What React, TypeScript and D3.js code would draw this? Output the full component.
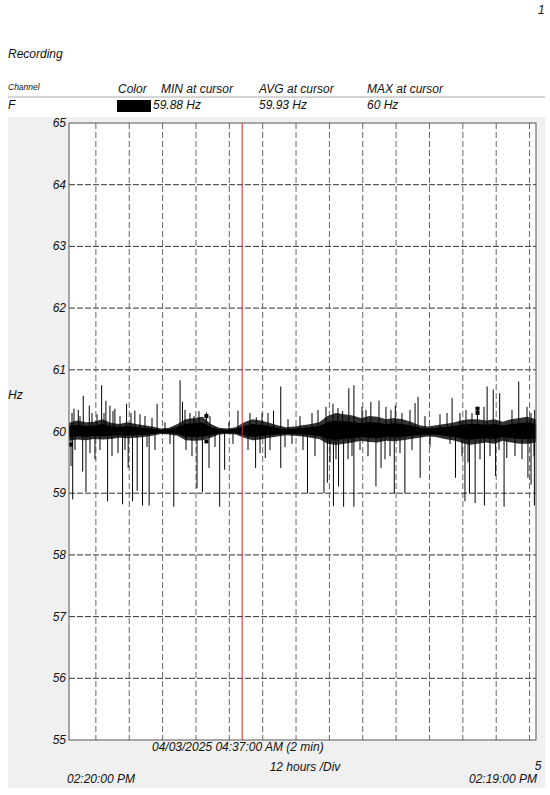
import React from "react";
import * as d3 from "d3";

// ---- data ----
const startTime = new Date(2025, 2, 31, 14, 20, 0);
const endTime = new Date(2025, 3, 7, 14, 19, 0);
const cursorTime = new Date(2025, 3, 3, 4, 37, 0);
const yTicks = [55, 56, 57, 58, 59, 60, 61, 62, 63, 64, 65];

// noise band (hours from start, low, high)
const bandHours = [0, 3, 6, 9, 12, 15, 18, 21, 24, 27, 30, 33, 36, 39, 42, 45, 48, 51, 54, 57, 60, 63, 66, 69, 72, 75, 78, 81, 84, 87, 90, 93, 96, 99, 102, 105, 108, 111, 114, 117, 120, 123, 126, 129, 132, 135, 138, 141, 144, 147, 150, 153, 156, 159, 162, 165, 168];
const bandLo = [59.85, 59.87, 59.86, 59.88, 59.87, 59.88, 59.9, 59.89, 59.9, 59.91, 59.93, 59.96, 59.95, 59.93, 59.86, 59.85, 59.86, 59.9, 59.95, 59.96, 59.95, 59.9, 59.86, 59.87, 59.9, 59.92, 59.94, 59.93, 59.92, 59.9, 59.88, 59.8, 59.78, 59.8, 59.82, 59.85, 59.83, 59.82, 59.85, 59.84, 59.86, 59.88, 59.9, 59.92, 59.91, 59.88, 59.86, 59.82, 59.78, 59.8, 59.82, 59.8, 59.85, 59.82, 59.8, 59.8, 59.82];
const bandHi = [60.14, 60.18, 60.15, 60.16, 60.2, 60.14, 60.12, 60.15, 60.12, 60.1, 60.08, 60.05, 60.06, 60.12, 60.2, 60.22, 60.24, 60.12, 60.06, 60.05, 60.07, 60.15, 60.2, 60.18, 60.14, 60.1, 60.07, 60.08, 60.1, 60.12, 60.15, 60.25, 60.3, 60.28, 60.26, 60.22, 60.25, 60.24, 60.2, 60.22, 60.2, 60.16, 60.1, 60.08, 60.1, 60.12, 60.14, 60.18, 60.2, 60.2, 60.18, 60.2, 60.16, 60.2, 60.22, 60.24, 60.2];

// large upward spikes (hours, Hz)
const upHours = [1.79, 3.34, 5.13, 7.29, 11.74, 13.28, 14.72, 16.51, 20.71, 23.69, 31.69, 39.95, 40.81, 49.43, 60.77, 67.37, 73.58, 76.17, 98.42, 100.65, 102.48, 108.58, 111.52, 117.37, 124.48, 125.56, 137.8, 146.95, 150.4, 152.59, 154.92, 161.77, 167.5];
const upValues = [60.37, 60.35, 60.58, 60.42, 60.75, 60.5, 60.42, 60.37, 60.45, 60.34, 60.45, 60.83, 60.48, 60.31, 60.34, 60.23, 60.34, 60.73, 60.33, 60.7, 60.75, 60.48, 60.5, 60.42, 60.46, 60.56, 60.54, 60.39, 60.73, 60.68, 60.62, 60.81, 60.35];

// large downward spikes (hours, Hz)
const downHours = [0.72, 1.33, 4.92, 6.1, 9.33, 13.89, 19.27, 21.28, 22.86, 24.52, 26.45, 28.82, 37.69, 46.05, 47.99, 50.36, 54.2, 55.99, 67.12, 70.6, 76.17, 85.79, 91.71, 92.93, 95.12, 96.95, 98.78, 102.48, 110.41, 112.24, 117.01, 120.82, 126.31, 139.02, 142.43, 144.04, 146.09, 149.43, 153.45, 156.5, 157.47, 165.08, 166.19, 167.4];
const downValues = [59.44, 58.9, 59.35, 59.02, 59.55, 58.87, 58.82, 59.41, 58.87, 59.04, 58.8, 58.8, 58.78, 59.08, 59.02, 59.41, 58.78, 59.38, 59.41, 59.57, 59.41, 59.0, 59.0, 59.17, 58.79, 59.11, 58.78, 58.78, 59.11, 59.41, 59.0, 59.0, 59.25, 59.25, 58.87, 59.0, 58.84, 58.8, 59.28, 58.78, 59.57, 59.25, 59.14, 58.8];

// smaller upward excursions (hours, Hz)
const midUpHours = [1.08, 3.96, 8.27, 10.07, 12.59, 15.83, 18.35, 22.3, 25.54, 27.34, 29.86, 34.53, 41.73, 43.53, 44.96, 46.76, 50.72, 57.55, 65.11, 69.43, 71.58, 78.78, 83.09, 87.41, 89.57, 92.44, 94.96, 96.76, 105.39, 106.83, 114.02, 115.82, 119.78, 122.66, 128.05, 133.45, 135.97, 140.64, 142.8, 144.96, 149.28, 159.35, 164.75, 166.18];
const midUpValues = [60.3, 60.25, 60.3, 60.28, 60.3, 60.33, 60.25, 60.3, 60.28, 60.25, 60.22, 60.15, 60.35, 60.3, 60.25, 60.33, 60.25, 60.15, 60.3, 60.3, 60.3, 60.2, 60.25, 60.3, 60.35, 60.4, 60.45, 60.38, 60.4, 60.35, 60.4, 60.35, 60.3, 60.35, 60.25, 60.28, 60.3, 60.3, 60.35, 60.3, 60.4, 60.35, 60.4, 60.3];

// smaller downward excursions (hours, Hz)
const midDownHours = [2.16, 7.55, 11.15, 15.47, 17.63, 20.14, 28.06, 30.94, 36.33, 42.09, 44.24, 52.52, 58.99, 64.39, 68.71, 72.3, 77.7, 80.22, 84.17, 88.49, 93.89, 96.04, 100.36, 101.8, 104.68, 107.55, 113.67, 115.47, 119.06, 123.38, 129.86, 137.05, 141.37, 143.53, 147.84, 151.44, 154.68, 160.43, 162.95, 167.27];
const midDownValues = [59.7, 59.65, 59.7, 59.6, 59.65, 59.7, 59.75, 59.7, 59.8, 59.7, 59.6, 59.75, 59.8, 59.7, 59.65, 59.7, 59.75, 59.8, 59.7, 59.6, 59.5, 59.55, 59.55, 59.6, 59.7, 59.6, 59.55, 59.6, 59.65, 59.7, 59.75, 59.8, 59.6, 59.5, 59.55, 59.6, 59.7, 59.6, 59.55, 59.6];

// small square markers
const markerHours = [0.72, 49.43, 49.43, 146.95, 146.95];
const markerValues = [59.79, 60.25, 59.84, 60.37, 60.3];

const headerCols = ["Color", "MIN at cursor", "AVG at cursor", "MAX at cursor"];
const headerVals = ["59.88 Hz", "59.93 Hz", "60 Hz"];

const FONT = "'Liberation Sans', Arial, sans-serif";

export default function App() {
  const left = 69, right = 536, top = 123, bottom = 740;
  const x = d3.scaleTime().domain([startTime, endTime]).range([left, right]);
  const y = d3.scaleLinear().domain([55, 65]).range([bottom, top]);
  const hToDate = (h: number) => new Date(startTime.getTime() + h * 3600000);

  const gridTimes = d3.timeHour.every(12)!.range(startTime, endTime).filter((t) => t > startTime);

  const band = bandHours.map((h, i) => ({ t: hToDate(h), lo: bandLo[i], hi: bandHi[i] }));
  const area = d3
    .area<any>()
    .x((d) => x(d.t))
    .y0((d) => y(d.lo))
    .y1((d) => y(d.hi))
    .curve(d3.curveLinear);
  const core = d3
    .area<any>()
    .x((d) => x(d.t))
    .y0((d) => y(60 - (60 - d.lo) * 0.6))
    .y1((d) => y(60 + (d.hi - 60) * 0.6))
    .curve(d3.curveLinear);

  const spikes = [
    ...upHours.map((h, i) => ({ t: hToDate(h), v: upValues[i] })),
    ...downHours.map((h, i) => ({ t: hToDate(h), v: downValues[i] })),
    ...midUpHours.map((h, i) => ({ t: hToDate(h), v: midUpValues[i] })),
    ...midDownHours.map((h, i) => ({ t: hToDate(h), v: midDownValues[i] })),
  ];

  const txt = { fontFamily: FONT, fontStyle: "italic" as const, fill: "#111" };

  return (
    <svg width={550} height={795} style={{ position: "absolute", left: 0, top: 0, background: "#fff" }}>
      <text x={538} y={14} fontSize={12} {...txt}>1</text>
      <text x={8} y={58} fontSize={12} {...txt}>Recording</text>
      <text x={8} y={90} fontSize={8.5} {...txt}>Channel</text>
      {headerCols.map((c, i) => (
        <text key={c} x={[118, 161, 259, 367][i]} y={93} fontSize={12} {...txt}>{c}</text>
      ))}
      <line x1={8} x2={545} y1={97} y2={97} stroke="#aaa" strokeWidth={1} />
      <text x={8} y={109} fontSize={12} {...txt}>F</text>
      <rect x={117} y={100} width={34} height={12} fill="#000" />
      {headerVals.map((v, i) => (
        <text key={v} x={[153, 259, 367][i]} y={109} fontSize={12} {...txt}>{v}</text>
      ))}

      <rect x={8} y={117} width={537} height={671} fill="#f0f0f0" />
      <rect x={left} y={top} width={right - left} height={bottom - top} fill="#fff" />

      {yTicks.slice(1, -1).map((v) => (
        <line key={v} x1={left} x2={right} y1={y(v)} y2={y(v)} stroke="#333" strokeWidth={1} strokeDasharray="6,2" />
      ))}
      {gridTimes.map((t) => (
        <line key={+t} x1={x(t)} x2={x(t)} y1={top} y2={bottom} stroke="#666" strokeWidth={1} strokeDasharray="6,3" />
      ))}

      <path d={area(band) || ""} fill="#000" fillOpacity={0.8} />
      <path d={core(band) || ""} fill="#000" />
      {spikes.map((s, i) => (
        <line key={i} x1={x(s.t)} x2={x(s.t)} y1={y(60)} y2={y(s.v)} stroke="#000" strokeWidth={1} />
      ))}
      {markerHours.map((h, i) => (
        <rect key={i} x={x(hToDate(h)) - 2} y={y(markerValues[i]) - 2} width={4} height={4} fill="#000" />
      ))}

      <line x1={x(cursorTime)} x2={x(cursorTime)} y1={top} y2={bottom} stroke="#e0211b" strokeWidth={1} />

      <rect x={left} y={top} width={right - left} height={bottom - top} fill="none" stroke="#555" strokeWidth={1} />

      {yTicks.map((v) => (
        <text key={v} x={66} y={y(v) + 4} fontSize={12} textAnchor="end" {...txt}>{v}</text>
      ))}
      <text x={8} y={399} fontSize={12} {...txt}>Hz</text>

      <text x={152} y={751} fontSize={12} {...txt}>04/03/2025 04:37:00 AM (2 min)</text>
      <text x={305} y={771} fontSize={12} textAnchor="middle" {...txt}>12 hours /Div</text>
      <text x={538} y={770} fontSize={12} textAnchor="middle" {...txt}>5</text>
      <text x={67} y={783} fontSize={12} {...txt}>02:20:00 PM</text>
      <text x={537} y={783} fontSize={12} textAnchor="end" {...txt}>02:19:00 PM</text>
    </svg>
  );
}
